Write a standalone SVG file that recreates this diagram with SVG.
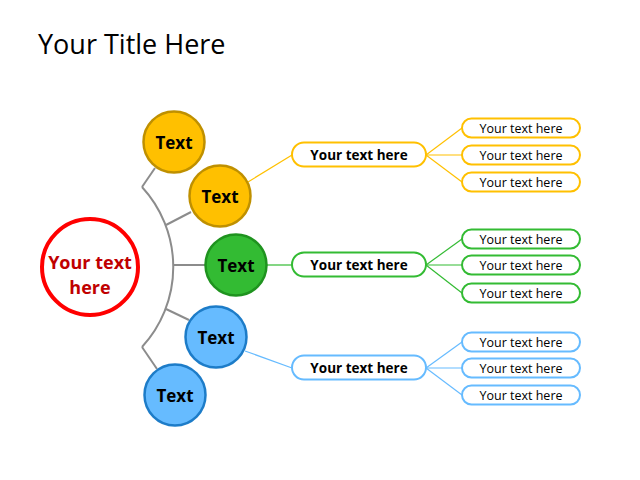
<svg xmlns="http://www.w3.org/2000/svg" width="640" height="480" viewBox="0 0 640 480">
  <style>
    .title { font-family: "Open Sans", "Liberation Sans", sans-serif; font-size: 27px; fill: #000; }
    .hub { fill: #fff; stroke: #ff0000; stroke-width: 4; }
    .hubtxt { font-family: "Open Sans", "Liberation Sans", sans-serif; font-weight: bold; font-size: 18px; fill: #c00000; text-anchor: middle; }
    .ctxt { font-family: "Open Sans", "Liberation Sans", sans-serif; font-weight: bold; font-size: 17px; fill: #000; text-anchor: middle; dominant-baseline: central; }
    .mtxt { font-family: "Open Sans", "Liberation Sans", sans-serif; font-weight: bold; font-size: 13.5px; fill: #000; text-anchor: middle; dominant-baseline: central; }
    .stxt { font-family: "Open Sans", "Liberation Sans", sans-serif; font-size: 12.5px; fill: #000; text-anchor: middle; dominant-baseline: central; }
    .gold { fill: #ffc000; stroke: #bf9000; stroke-width: 2.5; }
    .green { fill: #33bb33; stroke: #1f931f; stroke-width: 2.5; }
    .blue { fill: #66bbff; stroke: #1d7cc8; stroke-width: 2.5; }
    .bgold { fill: #fff; stroke: #ffc000; stroke-width: 2; }
    .bgreen { fill: #fff; stroke: #33bb33; stroke-width: 2; }
    .bblue { fill: #fff; stroke: #66bbff; stroke-width: 2; }
    .lgray { fill: none; stroke: #8c8c8c; stroke-width: 2; }
    .lgold { fill: none; stroke: #ffc000; stroke-width: 1.2; }
    .lgreen { fill: none; stroke: #33bb33; stroke-width: 1.2; }
    .lblue { fill: none; stroke: #66bbff; stroke-width: 1.2; }
  </style>

  <text class="title" x="38" y="54">Your Title Here</text>

  <!-- connectors -->
  <g id="connectors">
    <path class="lgray" d="M142,187 A118,118 0 0 1 142,347"/>
    <line class="lgray" x1="142" y1="187" x2="155" y2="168"/>
    <line class="lgray" x1="166" y1="225" x2="191" y2="212"/>
    <line class="lgray" x1="173" y1="265" x2="205" y2="265"/>
    <line class="lgray" x1="166" y1="309" x2="189" y2="320"/>
    <line class="lgray" x1="142" y1="347" x2="157" y2="369"/>

    <line class="lgold" x1="248" y1="182" x2="292" y2="155"/>
    <line class="lgold" x1="426" y1="155" x2="462" y2="128"/>
    <line class="lgold" x1="426" y1="155" x2="462" y2="155"/>
    <line class="lgold" x1="426" y1="155" x2="462" y2="182"/>

    <line class="lgreen" x1="267" y1="265" x2="292" y2="265"/>
    <line class="lgreen" x1="426" y1="265" x2="462" y2="239"/>
    <line class="lgreen" x1="426" y1="265" x2="462" y2="265"/>
    <line class="lgreen" x1="426" y1="265" x2="462" y2="293"/>

    <line class="lblue" x1="245" y1="351" x2="292" y2="368"/>
    <line class="lblue" x1="426" y1="368" x2="462" y2="342"/>
    <line class="lblue" x1="426" y1="368" x2="462" y2="368"/>
    <line class="lblue" x1="426" y1="368" x2="462" y2="395"/>
  </g>

  <g id="hub">
    <circle class="hub" cx="90" cy="267" r="48"/>
    <text class="hubtxt" x="90" y="269">Your text</text>
    <text class="hubtxt" x="90" y="294">here</text>
  </g>

  <g id="c1"><circle class="gold" cx="174" cy="142" r="30.5"/><text class="ctxt" x="174" y="142">Text</text></g>
  <g id="c2"><circle class="gold" cx="220" cy="196" r="30.5"/><text class="ctxt" x="220" y="196">Text</text></g>
  <g id="c3"><circle class="green" cx="236" cy="265" r="30.5"/><text class="ctxt" x="236" y="265">Text</text></g>
  <g id="c4"><circle class="blue" cx="216" cy="337" r="30.5"/><text class="ctxt" x="216" y="337">Text</text></g>
  <g id="c5"><circle class="blue" cx="175" cy="395" r="30.5"/><text class="ctxt" x="175" y="395">Text</text></g>

  <g id="m1"><rect class="bgold" x="292" y="142.5" width="134" height="24" rx="12"/><text class="mtxt" x="359" y="155">Your text here</text></g>
  <g id="m2"><rect class="bgreen" x="292" y="252.5" width="134" height="24" rx="12"/><text class="mtxt" x="359" y="265">Your text here</text></g>
  <g id="m3"><rect class="bblue" x="292" y="355.5" width="134" height="24" rx="12"/><text class="mtxt" x="359" y="368">Your text here</text></g>

  <g id="s1"><rect class="bgold" x="462" y="118.5" width="118" height="19" rx="9.5"/><text class="stxt" x="521" y="128">Your text here</text></g>
  <g id="s2"><rect class="bgold" x="462" y="145.5" width="118" height="19" rx="9.5"/><text class="stxt" x="521" y="155">Your text here</text></g>
  <g id="s3"><rect class="bgold" x="462" y="172.5" width="118" height="19" rx="9.5"/><text class="stxt" x="521" y="182">Your text here</text></g>

  <g id="s4"><rect class="bgreen" x="462" y="229.5" width="118" height="19" rx="9.5"/><text class="stxt" x="521" y="239">Your text here</text></g>
  <g id="s5"><rect class="bgreen" x="462" y="255.5" width="118" height="19" rx="9.5"/><text class="stxt" x="521" y="265">Your text here</text></g>
  <g id="s6"><rect class="bgreen" x="462" y="283.5" width="118" height="19" rx="9.5"/><text class="stxt" x="521" y="293">Your text here</text></g>

  <g id="s7"><rect class="bblue" x="462" y="332.5" width="118" height="19" rx="9.5"/><text class="stxt" x="521" y="342">Your text here</text></g>
  <g id="s8"><rect class="bblue" x="462" y="358.5" width="118" height="19" rx="9.5"/><text class="stxt" x="521" y="368">Your text here</text></g>
  <g id="s9"><rect class="bblue" x="462" y="385.5" width="118" height="19" rx="9.5"/><text class="stxt" x="521" y="395">Your text here</text></g>
</svg>
